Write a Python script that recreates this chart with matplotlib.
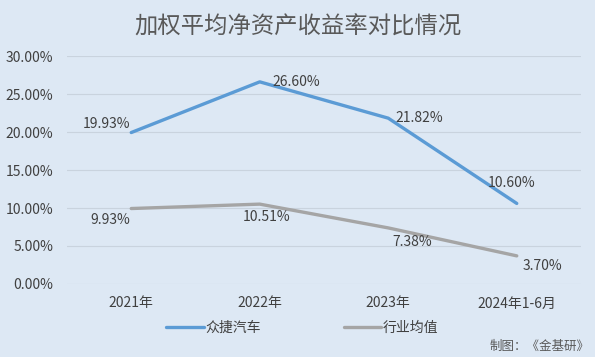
import matplotlib.pyplot as plt
from matplotlib.ticker import FuncFormatter

plt.rcParams['font.family'] = ['Noto Sans CJK SC', 'DejaVu Sans']

years = ['2021年', '2022年', '2023年', '2024年1-6月']
zhongjie = [19.93, 26.60, 21.82, 10.60]
industry = [9.93, 10.51, 7.38, 3.70]

# label offsets in points (dx, dy, ha)
zj_offsets = [(-1, 6, 'right'), (9, 0, 'left'), (5, 0, 'left'), (-4, 15, 'center')]
ind_offsets = [(-1, -8, 'right'), (5, -9, 'center'), (17, -10, 'center'), (4, -7, 'left')]

bg = '#dde8f4'
blue = '#5b9bd5'
gray = '#a5a5a5'
txt = '#404040'

fig = plt.figure(figsize=(5.95, 3.57), dpi=100, facecolor=bg)
ax = fig.add_axes([0.1126, 0.2045, 0.8639, 0.6386], facecolor=bg)

x = list(range(len(years)))
ax.plot(x, zhongjie, color=blue, lw=2.4, solid_capstyle='round', label='众捷汽车')
ax.plot(x, industry, color=gray, lw=2.4, solid_capstyle='round', label='行业均值')

for xi, v, (dx, dy, ha) in zip(x, zhongjie, zj_offsets):
    ax.annotate(f'{v:.2f}%', (xi, v), xytext=(dx, dy), textcoords='offset points',
                ha=ha, va='center', fontsize=10, color=txt)
for xi, v, (dx, dy, ha) in zip(x, industry, ind_offsets):
    ax.annotate(f'{v:.2f}%', (xi, v), xytext=(dx, dy), textcoords='offset points',
                ha=ha, va='center', fontsize=10, color=txt)

ax.set_xlim(-0.5, len(years) - 0.5)
ax.set_ylim(0, 30)
ax.set_yticks([0, 5, 10, 15, 20, 25, 30])
ax.yaxis.set_major_formatter(FuncFormatter(lambda v, p: f'{v:.2f}%'))
ax.set_xticks(x)
ax.set_xticklabels(years)
ax.tick_params(axis='both', length=0, labelsize=10, labelcolor=txt)
ax.tick_params(axis='y', pad=10)
ax.tick_params(axis='x', pad=9)
ax.grid(axis='y', color='#c9d3de', lw=0.8)
ax.set_axisbelow(True)
for s in ax.spines.values():
    s.set_visible(False)

fig.text(0.5, 0.925, '加权平均净资产收益率对比情况', ha='center', va='center',
         fontsize=16.8, color='#595959')

fig.legend(loc='center', bbox_to_anchor=(0.508, 0.081), ncol=2, frameon=False,
           fontsize=10, handlelength=2.7, handletextpad=0.1, columnspacing=6,
           labelcolor=txt)

fig.text(0.99, 0.03, '制图：《金基研》', ha='right', va='center', fontsize=9, color='#595959')

fig.savefig('out.png', dpi=100, facecolor=bg)
